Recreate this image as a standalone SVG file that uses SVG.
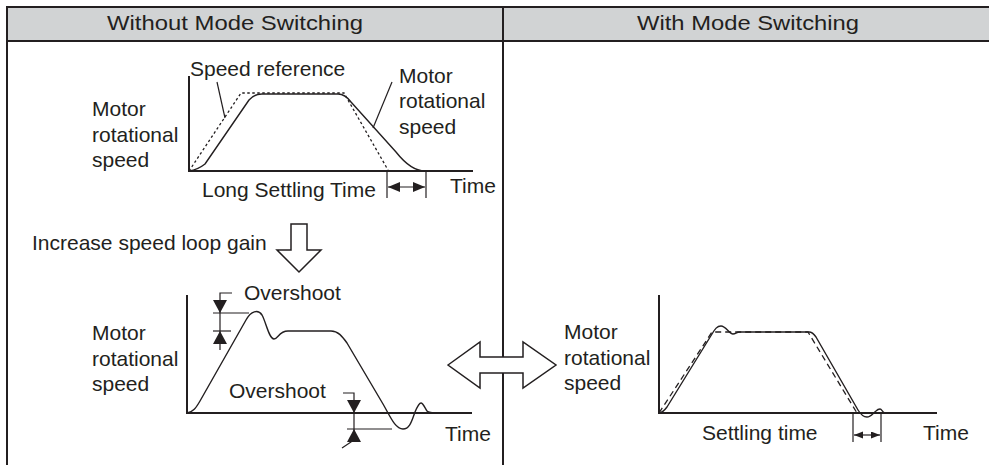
<svg xmlns="http://www.w3.org/2000/svg" width="989" height="465" viewBox="0 0 989 465">
<style>
text{font-family:"Liberation Sans",Arial,sans-serif;font-size:21px;fill:#231f20}
.frame{stroke:#231f20;stroke-width:2;fill:none}
.axis{stroke:#231f20;stroke-width:2;fill:none}
.curve{stroke:#231f20;stroke-width:1.4;fill:none;stroke-linejoin:round}
.dot{stroke:#231f20;stroke-width:1.3;fill:none;stroke-dasharray:2.5,2.5}
.dash{stroke:#231f20;stroke-width:1.3;fill:none;stroke-dasharray:6,4}
.thin{stroke:#231f20;stroke-width:1.2;fill:none}
.hollow{stroke:#231f20;stroke-width:1.5;fill:#fff;stroke-linejoin:miter}
.tri{fill:#231f20}
</style>
<defs>
<marker id="ah" markerUnits="userSpaceOnUse" markerWidth="13" markerHeight="11" refX="12" refY="5" orient="auto-start-reverse"><path d="M0,0 L12,5 L0,10 z" fill="#231f20"/></marker>
<marker id="ahs" markerUnits="userSpaceOnUse" markerWidth="10" markerHeight="8" refX="9" refY="3.5" orient="auto-start-reverse"><path d="M0,0 L9,3.5 L0,7 z" fill="#231f20"/></marker>
<path id="triDown" class="tri" d="M-7,-13 L7,-13 L0,0 z"/>
<path id="triUp" class="tri" d="M-7,13 L7,13 L0,0 z"/>
</defs>
<rect width="989" height="465" fill="#fff"/>
<g id="table">
<rect x="7" y="7" width="982" height="34" fill="#d1d3d4"/>
<line class="frame" x1="7" y1="7" x2="989" y2="7"/>
<line class="frame" x1="7" y1="41" x2="989" y2="41"/>
<line class="frame" x1="7" y1="6" x2="7" y2="465"/>
<line class="frame" x1="503" y1="6" x2="503" y2="465"/>
</g>
<g id="header-left"><text x="107" y="30" textLength="256" lengthAdjust="spacingAndGlyphs">Without Mode Switching</text></g>
<g id="header-right"><text x="637" y="30" textLength="222" lengthAdjust="spacingAndGlyphs">With Mode Switching</text></g>
<g id="chart-top-left">
<text x="92" y="116">Motor</text>
<text x="92" y="142">rotational</text>
<text x="92" y="167">speed</text>
<path class="axis" d="M189,76 V171 H473"/>
<path class="dot" d="M189,171 L241,93 L344,93 L388,170"/>
<path class="curve" d="M189,171 C196,170 200,168 205,164 L249,100 Q254,94 262,94 L338,94 Q345,94 351,102 L396,152 Q411,171 425,171"/>
<text x="190" y="76">Speed reference</text>
<text x="399" y="83">Motor</text>
<text x="399" y="108">rotational</text>
<text x="399" y="134">speed</text>
<line class="thin" x1="387" y1="171" x2="387" y2="198"/>
<line class="thin" x1="426" y1="171" x2="426" y2="198"/>
<line class="thin" x1="388" y1="187" x2="425" y2="187" marker-start="url(#ah)" marker-end="url(#ah)"/>
<text x="202" y="197">Long Settling Time</text>
<text x="450" y="193">Time</text>
</g>
<g id="gain-step">
<text x="32" y="250">Increase speed loop gain</text>
<path class="hollow" d="M291,224 H307 V250 H321 L299,272 L277,250 H291 Z"/>
</g>
<g id="chart-bottom-left">
<text x="92" y="340">Motor</text>
<text x="92" y="366">rotational</text>
<text x="92" y="391">speed</text>
<path class="axis" d="M187,295 V413 H472"/>
<path class="curve" d="M187,413 C193,412 196,408 200,401 L246,320 C251,311 258,309 262,315 C266,322 269,339 274,339 C278,339 279,331 288,331 L331,331 C338,331 342,336 347,343 L383,404 C390,416 395,429 403,429 C410,429 412,420 415,412 C418,405 420,403 421,403 C423,403 425,408 427,411 C429,413 431,413 437,413"/>
<line class="thin" x1="213" y1="313" x2="249" y2="313"/>
<line class="thin" x1="213" y1="331" x2="231" y2="331"/>
<path class="thin" d="M232,293 H220 V350"/>
<use href="#triDown" x="220" y="313"/>
<use href="#triUp" x="220" y="331"/>
<text x="244" y="300">Overshoot</text>
<text x="229" y="398">Overshoot</text>
<path class="thin" d="M343,393 H354 V440 L342,448"/>
<line class="thin" x1="347" y1="429" x2="392" y2="429"/>
<use href="#triDown" x="354" y="413"/>
<use href="#triUp" x="354" y="429"/>
<text x="445" y="441">Time</text>
</g>
<g id="compare-arrow">
<path class="hollow" d="M448,365 L480,342 V357 H523 V342 L556,365 L523,388 V373 H480 V388 Z"/>
</g>
<g id="chart-right">
<text x="564" y="339">Motor</text>
<text x="564" y="365">rotational</text>
<text x="564" y="390">speed</text>
<path class="axis" d="M659,295 V413 H937"/>
<path class="dash" d="M659,413 L712,332 L808,332 L857,413"/>
<path class="curve" d="M659,413 C662,413 664,411 667,407 L712,334 C715,329 717,326 721,326 C726,326 729,334 733,334 C736,334 736,332 740,332 L809,332 C812,332 814,334 816,337 L858,410 C861,415 864,417 867,417 C871,417 873,413 876,411 C878,409 879,409 880,409 C882,409 882,412 885,413 L890,413"/>
<line class="thin" x1="853" y1="413" x2="853" y2="442"/>
<line class="thin" x1="881" y1="413" x2="881" y2="442"/>
<line class="thin" x1="854" y1="435" x2="880" y2="435" marker-start="url(#ahs)" marker-end="url(#ahs)"/>
<text x="702" y="440">Settling time</text>
<text x="923" y="440">Time</text>
</g>
<g id="connectors">
<line class="thin" x1="217" y1="82" x2="225" y2="118"/>
<line class="thin" x1="392" y1="82" x2="373" y2="128"/>
</g>
</svg>
